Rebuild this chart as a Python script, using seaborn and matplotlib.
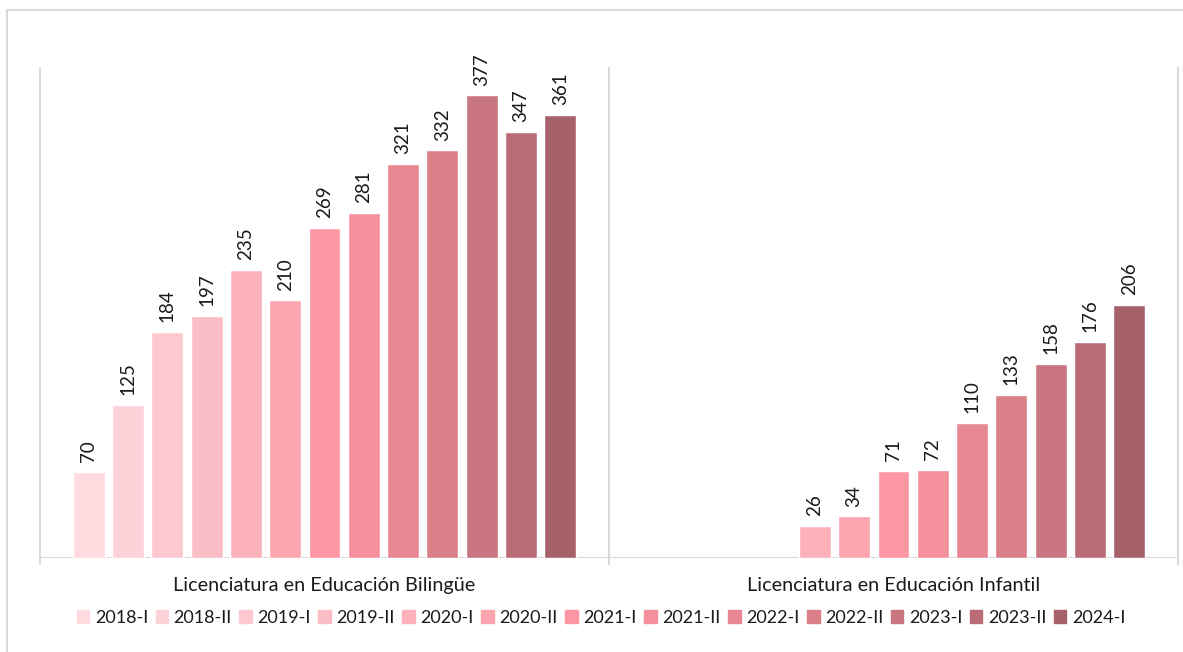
import numpy as np
import pandas as pd
import matplotlib
matplotlib.use("Agg")
import matplotlib.pyplot as plt
import seaborn as sns
from matplotlib.lines import Line2D

programs = ["Licenciatura en Educación Bilingüe", "Licenciatura en Educación Infantil"]
periods = ["2018-I", "2018-II", "2019-I", "2019-II", "2020-I", "2020-II", "2021-I",
           "2021-II", "2022-I", "2022-II", "2023-I", "2023-II", "2024-I"]
bilingue = [70, 125, 184, 197, 235, 210, 269, 281, 321, 332, 377, 347, 361]
infantil = [None, None, None, None, 26, 34, 71, 72, 110, 133, 158, 176, 206]
colors = ["#FFDADF", "#FDD2D8", "#FDC8CF", "#FCBEC6", "#FDB1BB", "#FCA5AF", "#FC97A3",
          "#F4909B", "#E88893", "#DB7F88", "#CA7680", "#BA6C76", "#A6616A"]

rows = []
for p, v in zip(periods, bilingue):
    rows.append({"programa": programs[0], "periodo": p, "valor": v})
for p, v in zip(periods, infantil):
    if v is not None:
        rows.append({"programa": programs[1], "periodo": p, "valor": v})
data = pd.DataFrame(rows)

sns.set_style("white")
plt.rcParams["font.family"] = ["Lato", "DejaVu Sans"]

fig = plt.figure(figsize=(11.83, 6.52), dpi=100)
ax = fig.add_axes([40 / 1183, 94 / 652, 1138 / 1183, 491 / 652])

sns.barplot(data=data, x="programa", y="valor", hue="periodo", order=programs,
            hue_order=periods, palette=colors, width=0.898, gap=0.19,
            saturation=1, legend=False, ax=ax, errorbar=None)

for cont in ax.containers:
    ax.bar_label(cont, rotation=90, padding=7, fontsize=13.5, color="#1a1a1a")

ax.set_ylim(0, 400)
ax.set_xlim(-0.5, 1.5)
ax.set_xlabel("")
ax.set_ylabel("")
ax.set_yticks([])
sns.despine(ax=ax, left=True, bottom=True)
ax.tick_params(axis="x", length=0, pad=14, labelsize=14.3, labelcolor="#1a1a1a")

ax.axhline(0, color="#d9d9d9", lw=1.5, zorder=0)
ax.vlines([-0.5, 0.5, 1.5], -6, 400, colors="#d9d9d9", lw=1.5, clip_on=False)

# outer frame
fig.add_artist(Line2D([7 / 1183, 7 / 1183], [0, 642 / 652], color="#d9d9d9", lw=1.5))
fig.add_artist(Line2D([7 / 1183, 1], [642 / 652, 642 / 652], color="#d9d9d9", lw=1.5))

handles = [plt.Rectangle((0, 0), 1, 1, color=c) for c in colors]
fig.legend(handles, periods, loc="center", bbox_to_anchor=(0.508, 34 / 652), ncol=13,
           frameon=False, fontsize=13, handlelength=0.7, handleheight=0.7,
           handletextpad=0.3, columnspacing=0.42, labelcolor="#1a1a1a")

fig.savefig("out.png", dpi=100)
